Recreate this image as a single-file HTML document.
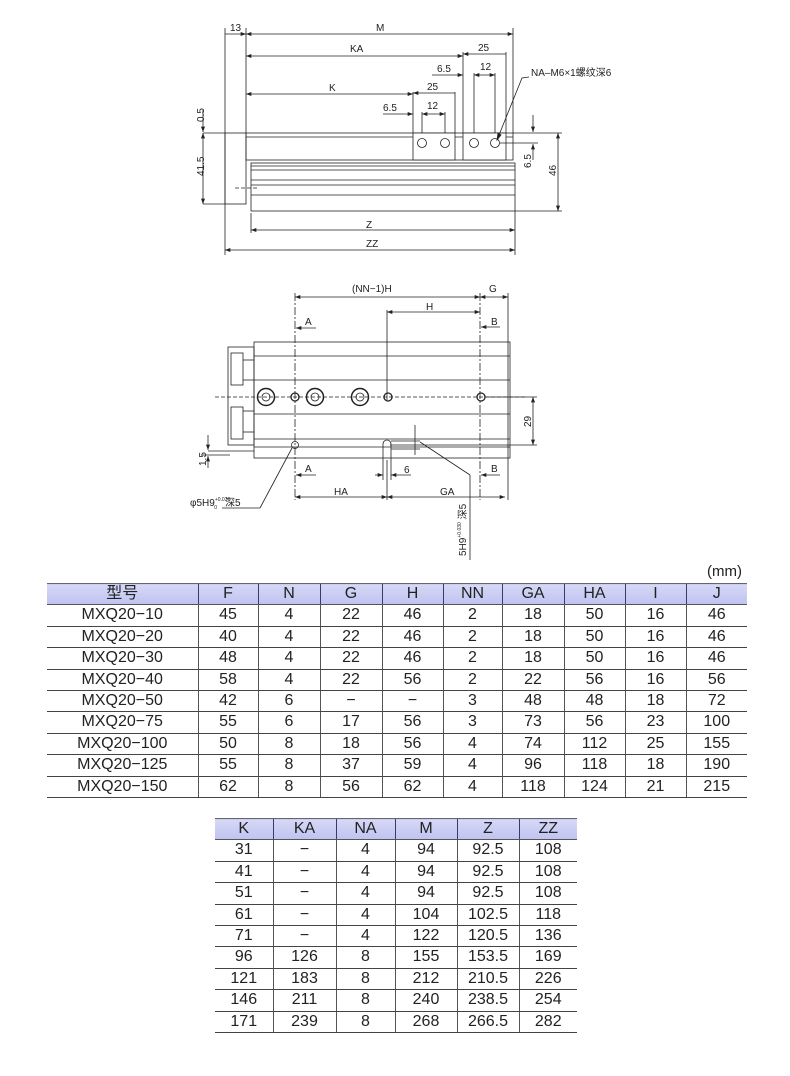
<!DOCTYPE html>
<html><head><meta charset="utf-8"><style>
body{margin:0;background:#fff;width:790px;height:1076px;position:relative;overflow:hidden;font-family:"Liberation Sans","Noto Sans CJK SC",sans-serif}
svg{position:absolute;left:0;top:0}
table{position:absolute;border-collapse:collapse;font-size:16px;color:#222}
td{text-align:center;padding:0;border-bottom:1.5px solid #444;border-left:1px solid #555;line-height:20.4px;height:20.4px}
td:first-child{border-left:none}
tr.h td{background:linear-gradient(#d6d8f6,#bfc3f0);border-top:1.5px solid #666;border-bottom:1.5px solid #555;border-left:1px solid #3a3a70}
tr.h td:first-child{border-left:none}
.mm{position:absolute;left:707px;top:563px;font-size:15px;color:#222}
</style></head><body>
<svg width="790" height="560" viewBox="0 0 790 560" font-family="Liberation Sans, sans-serif" font-size="10" fill="none" stroke="#222" stroke-width="0.8">
<defs><marker id="a" viewBox="0 0 8 6" refX="8" refY="3" markerWidth="7" markerHeight="5" orient="auto-start-reverse"><path d="M0,0L8,3L0,6z" fill="#222" stroke="none"/></marker></defs>
<g>
<line x1="225" y1="28" x2="225" y2="255"/><line x1="246" y1="28" x2="246" y2="133"/><line x1="513" y1="28" x2="513" y2="133"/>
<line x1="225" y1="34" x2="246" y2="34" marker-end="url(#a)"/>
<line x1="246" y1="34" x2="513" y2="34" marker-start="url(#a)" marker-end="url(#a)"/>
<line x1="246" y1="56" x2="463" y2="56" marker-start="url(#a)" marker-end="url(#a)"/>
<line x1="463" y1="54" x2="506" y2="54" marker-start="url(#a)"/>
<line x1="463" y1="52" x2="463" y2="133"/><line x1="506" y1="52" x2="506" y2="133"/>
<line x1="432" y1="75" x2="463" y2="75" marker-end="url(#a)"/>
<line x1="474" y1="75" x2="495" y2="75" marker-start="url(#a)" marker-end="url(#a)"/>
<line x1="474" y1="73" x2="474" y2="143"/><line x1="495" y1="73" x2="495" y2="143"/>
<line x1="246" y1="94" x2="413" y2="94" marker-start="url(#a)" marker-end="url(#a)"/>
<line x1="413" y1="93" x2="455" y2="93" marker-start="url(#a)"/>
<line x1="413" y1="92" x2="413" y2="133"/><line x1="455" y1="92" x2="455" y2="133"/>
<line x1="383" y1="114" x2="413" y2="114" marker-end="url(#a)"/>
<line x1="422" y1="114" x2="445" y2="114" marker-start="url(#a)" marker-end="url(#a)"/>
<line x1="422" y1="112" x2="422" y2="143"/><line x1="445" y1="112" x2="445" y2="143"/>
<rect x="225" y="133" width="21" height="71"/>
<rect x="246" y="133" width="267" height="27"/><line x1="246" y1="137" x2="513" y2="137"/>
<rect x="413" y="133" width="42" height="27" fill="#fff"/><rect x="463" y="133" width="43" height="27" fill="#fff"/>
<circle cx="422" cy="143" r="4.5"/><circle cx="445" cy="143" r="4.5"/><circle cx="474" cy="143" r="4.5"/><circle cx="495" cy="143" r="4.5"/>
<rect x="251" y="163" width="264" height="48"/>
<line x1="251" y1="166" x2="515" y2="166"/><line x1="251" y1="170" x2="515" y2="170"/><line x1="251" y1="180" x2="515" y2="180"/><line x1="251" y1="185" x2="515" y2="185"/><line x1="251" y1="195" x2="515" y2="195"/>
<line x1="235" y1="188" x2="258" y2="188" stroke-dasharray="4 2"/>
<line x1="251" y1="213" x2="251" y2="233"/><line x1="515" y1="211" x2="515" y2="255"/>
<line x1="251" y1="230" x2="515" y2="230" marker-start="url(#a)" marker-end="url(#a)"/>
<line x1="225" y1="250" x2="515" y2="250" marker-start="url(#a)" marker-end="url(#a)"/>
<line x1="203" y1="133" x2="225" y2="133"/><line x1="203" y1="204" x2="225" y2="204"/>
<line x1="203" y1="133" x2="203" y2="204" marker-start="url(#a)" marker-end="url(#a)"/>
<line x1="203" y1="110" x2="203" y2="132" marker-end="url(#a)"/>
<line x1="513" y1="133" x2="562" y2="133"/><line x1="515" y1="211" x2="562" y2="211"/>
<line x1="558" y1="133" x2="558" y2="211" marker-start="url(#a)" marker-end="url(#a)"/>
<line x1="500" y1="143" x2="538" y2="143"/>
<line x1="533" y1="115" x2="533" y2="132" marker-end="url(#a)"/><line x1="533" y1="160" x2="533" y2="144" marker-end="url(#a)"/>
<polyline points="529,77 522,78 497,140" /><path d="M497,140l1,-7l3,2z" fill="#222"/>
<g fill="#222" stroke="none">
<text x="230" y="31">13</text><text x="376" y="31">M</text><text x="350" y="52">KA</text><text x="478" y="51">25</text>
<text x="437" y="72">6.5</text><text x="480" y="70">12</text><text x="329" y="91">K</text><text x="427" y="90">25</text>
<text x="383" y="111">6.5</text><text x="427" y="109">12</text><text x="531" y="76">NA–M6×1螺纹深6</text>
<text x="366" y="228">Z</text><text x="366" y="247">ZZ</text>
<text transform="translate(204,122) rotate(-90)">0.5</text><text transform="translate(204,176) rotate(-90)">41.5</text>
<text transform="translate(531,168) rotate(-90)">6.5</text><text transform="translate(556,176) rotate(-90)">46</text>
</g></g>
<g>
<line x1="295" y1="293" x2="295" y2="500" stroke-dasharray="8 2 2 2"/>
<line x1="480" y1="293" x2="480" y2="500" stroke-dasharray="8 2 2 2"/>
<line x1="508" y1="293" x2="508" y2="500"/>
<line x1="387" y1="310" x2="387" y2="400"/>
<line x1="295" y1="297" x2="480" y2="297" marker-start="url(#a)" marker-end="url(#a)"/>
<line x1="480" y1="297" x2="508" y2="297" marker-start="url(#a)" marker-end="url(#a)"/>
<line x1="387" y1="312" x2="480" y2="312" marker-start="url(#a)" marker-end="url(#a)"/>
<line x1="316" y1="328" x2="296" y2="328" marker-end="url(#a)"/><line x1="500" y1="327" x2="481" y2="327" marker-end="url(#a)"/>
<line x1="316" y1="475" x2="296" y2="475" marker-end="url(#a)"/><line x1="500" y1="475" x2="481" y2="475" marker-end="url(#a)"/>
<rect x="254" y="342" width="256" height="116"/>
<line x1="254" y1="356" x2="510" y2="356"/><line x1="254" y1="380" x2="510" y2="380"/><line x1="254" y1="414" x2="510" y2="414"/><line x1="254" y1="439" x2="510" y2="439"/><line x1="254" y1="447" x2="510" y2="447"/>
<rect x="228" y="347" width="26" height="98"/><rect x="231" y="353" width="12" height="32"/><rect x="231" y="407" width="12" height="32"/>
<line x1="243" y1="360" x2="254" y2="360"/><line x1="243" y1="380" x2="254" y2="380"/><line x1="243" y1="411" x2="254" y2="411"/><line x1="243" y1="432" x2="254" y2="432"/>
<line x1="215" y1="397" x2="525" y2="397" stroke-dasharray="4 2"/>
<circle cx="266" cy="397" r="8.5" stroke-width="1.5"/><circle cx="266" cy="397" r="4"/>
<circle cx="315" cy="397" r="8.5" stroke-width="1.5"/><circle cx="315" cy="397" r="4"/>
<circle cx="360" cy="397" r="8.5" stroke-width="1.5"/><circle cx="360" cy="397" r="4"/>
<circle cx="295" cy="397" r="4" stroke-width="1.3"/><circle cx="388" cy="397" r="4" stroke-width="1.3"/><circle cx="481" cy="397" r="4" stroke-width="1.3"/>
<circle cx="295" cy="445" r="3.5"/><path d="M383,458v-14a4,4 0 0 1 8,0v14"/>
<line x1="485" y1="397" x2="537" y2="397"/><line x1="390" y1="445" x2="537" y2="445"/>
<line x1="533" y1="397" x2="533" y2="445" marker-start="url(#a)" marker-end="url(#a)"/>
<line x1="383" y1="458" x2="383" y2="480"/><line x1="391" y1="458" x2="391" y2="480"/>
<line x1="375" y1="475" x2="383" y2="475" marker-end="url(#a)"/><line x1="411" y1="475" x2="391" y2="475" marker-end="url(#a)"/>
<line x1="415" y1="425" x2="415" y2="455"/><line x1="391" y1="441" x2="420" y2="441"/><line x1="391" y1="449" x2="420" y2="449"/>
<line x1="387" y1="460" x2="387" y2="500"/>
<line x1="295" y1="497" x2="387" y2="497" marker-start="url(#a)" marker-end="url(#a)"/>
<line x1="387" y1="497" x2="505" y2="497" marker-start="url(#a)" marker-end="url(#a)"/>
<line x1="208" y1="451" x2="254" y2="451"/><line x1="202" y1="455" x2="230" y2="455"/>
<line x1="208" y1="435" x2="208" y2="450" marker-end="url(#a)"/><line x1="208" y1="468" x2="208" y2="456" marker-end="url(#a)"/>
<polyline points="260,508 222,508"/><line x1="260" y1="508" x2="292" y2="448"/>
<line x1="470" y1="475" x2="420" y2="442"/><line x1="470" y1="475" x2="470" y2="560"/>
<g fill="#222" stroke="none">
<text x="352" y="292">(NN−1)H</text><text x="489" y="292">G</text><text x="426" y="310">H</text>
<text x="305" y="325">A</text><text x="491" y="325">B</text><text x="305" y="472">A</text><text x="491" y="472">B</text>
<text x="404" y="473">6</text><text x="334" y="495">HA</text><text x="440" y="495">GA</text>
<text x="190" y="506">φ5H9<tspan font-size="5" dy="-5">+0.030</tspan><tspan font-size="5" dx="-16" dy="8">0</tspan><tspan dy="-3" dx="8">深5</tspan></text>
<text transform="translate(466,556) rotate(-90)">5H9<tspan font-size="5" dy="-5">+0.030</tspan><tspan dy="5"> 深5</tspan></text>
<text transform="translate(531,427) rotate(-90)">29</text><text transform="translate(206,466) rotate(-90)">1.5</text>
</g></g>
</svg>
<div class="mm">(mm)</div>
<table style="left:47px;top:583px;width:700px">
<colgroup><col style="width:151px"><col style="width:60px"><col style="width:62px"><col style="width:62px"><col style="width:61px"><col style="width:59px"><col style="width:62px"><col style="width:61px"><col style="width:61px"><col style="width:61px"></colgroup>
<tr class="h"><td>型号</td><td>F</td><td>N</td><td>G</td><td>H</td><td>NN</td><td>GA</td><td>HA</td><td>I</td><td>J</td></tr>
<tr><td>MXQ20−10</td><td>45</td><td>4</td><td>22</td><td>46</td><td>2</td><td>18</td><td>50</td><td>16</td><td>46</td></tr>
<tr><td>MXQ20−20</td><td>40</td><td>4</td><td>22</td><td>46</td><td>2</td><td>18</td><td>50</td><td>16</td><td>46</td></tr>
<tr><td>MXQ20−30</td><td>48</td><td>4</td><td>22</td><td>46</td><td>2</td><td>18</td><td>50</td><td>16</td><td>46</td></tr>
<tr><td>MXQ20−40</td><td>58</td><td>4</td><td>22</td><td>56</td><td>2</td><td>22</td><td>56</td><td>16</td><td>56</td></tr>
<tr><td>MXQ20−50</td><td>42</td><td>6</td><td>−</td><td>−</td><td>3</td><td>48</td><td>48</td><td>18</td><td>72</td></tr>
<tr><td>MXQ20−75</td><td>55</td><td>6</td><td>17</td><td>56</td><td>3</td><td>73</td><td>56</td><td>23</td><td>100</td></tr>
<tr><td>MXQ20−100</td><td>50</td><td>8</td><td>18</td><td>56</td><td>4</td><td>74</td><td>112</td><td>25</td><td>155</td></tr>
<tr><td>MXQ20−125</td><td>55</td><td>8</td><td>37</td><td>59</td><td>4</td><td>96</td><td>118</td><td>18</td><td>190</td></tr>
<tr><td>MXQ20−150</td><td>62</td><td>8</td><td>56</td><td>62</td><td>4</td><td>118</td><td>124</td><td>21</td><td>215</td></tr>
</table>
<table style="left:215px;top:818px;width:362px">
<colgroup><col style="width:58px"><col style="width:63px"><col style="width:59px"><col style="width:62px"><col style="width:62px"><col style="width:58px"></colgroup>
<tr class="h"><td>K</td><td>KA</td><td>NA</td><td>M</td><td>Z</td><td>ZZ</td></tr>
<tr><td>31</td><td>−</td><td>4</td><td>94</td><td>92.5</td><td>108</td></tr>
<tr><td>41</td><td>−</td><td>4</td><td>94</td><td>92.5</td><td>108</td></tr>
<tr><td>51</td><td>−</td><td>4</td><td>94</td><td>92.5</td><td>108</td></tr>
<tr><td>61</td><td>−</td><td>4</td><td>104</td><td>102.5</td><td>118</td></tr>
<tr><td>71</td><td>−</td><td>4</td><td>122</td><td>120.5</td><td>136</td></tr>
<tr><td>96</td><td>126</td><td>8</td><td>155</td><td>153.5</td><td>169</td></tr>
<tr><td>121</td><td>183</td><td>8</td><td>212</td><td>210.5</td><td>226</td></tr>
<tr><td>146</td><td>211</td><td>8</td><td>240</td><td>238.5</td><td>254</td></tr>
<tr><td>171</td><td>239</td><td>8</td><td>268</td><td>266.5</td><td>282</td></tr>
</table>
</body></html>
